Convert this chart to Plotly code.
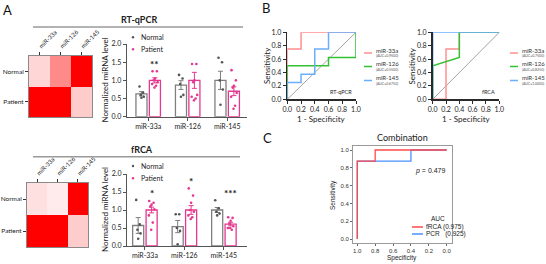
import plotly.graph_objects as go

W, H = 546, 264
def X(p): return p / W
def Y(p): return 1 - p / H

FONT = "Lato"
GRAY = "#7f7f7f"
MAG = "#e5378f"
C33, C126, C145 = "#ff8f8f", "#33c233", "#6aaeff"

# ---------------- data ----------------
mirnas = ["miR-33a", "miR-126", "miR-145"]
groups = ["Normal", "Patient"]

qpcr_heat = [[0.16, 0.46, 1.0], [1.0, 1.0, 0.2]]
frca_heat = [[0.12, 0.08, 1.0], [1.0, 1.0, 0.2]]

qpcr_normal_mean = [0.63, 0.87, 1.00]
qpcr_normal_sem = [0.06, 0.12, 0.25]
qpcr_patient_mean = [1.00, 1.00, 0.70]
qpcr_patient_sem = [0.07, 0.22, 0.12]
qpcr_normal_pts = [[0.83, 0.66, 0.60, 0.55, 0.52],
                   [1.15, 1.05, 0.90, 0.60, 0.55],
                   [1.62, 1.50, 1.00, 0.75, 0.33]]
qpcr_patient_pts = [[1.25, 1.25, 1.05, 1.00, 0.95, 0.90, 0.85, 0.80],
                    [1.45, 1.45, 1.00, 0.95, 0.60, 0.55, 0.50, 0.45],
                    [1.28, 1.00, 0.85, 0.80, 0.65, 0.55, 0.30, 0.22]]
qpcr_sig = ["**", "", ""]

frca_normal_mean = [0.57, 0.54, 1.00]
frca_normal_sem = [0.22, 0.17, 0.07]
frca_patient_mean = [1.00, 1.00, 0.61]
frca_patient_sem = [0.08, 0.12, 0.05]
frca_normal_pts = [[1.28, 0.60, 0.45, 0.35, 0.20],
                   [0.88, 0.88, 0.50, 0.42, 0.05],
                   [1.27, 1.05, 0.95, 0.90, 0.85]]
frca_patient_pts = [[1.25, 1.20, 1.15, 1.10, 1.02, 0.85, 0.65, 0.45],
                    [1.60, 1.40, 1.20, 1.00, 0.95, 0.85, 0.80, 0.75],
                    [0.80, 0.78, 0.70, 0.62, 0.55, 0.50, 0.45, 0.50]]
frca_sig = ["*", "*", "***"]

# ROC (1 - specificity, sensitivity)
qpcr_fpr = [[0, 0, 0.2, 0.2, 1],
            [0, 0, 0.6, 0.6, 1, 1],
            [0, 0, 0.2, 0.2, 0.4, 0.4, 0.6, 0.6, 1]]
qpcr_tpr = [[0, 0.75, 0.75, 1, 1],
            [0, 0.5, 0.5, 0.625, 0.625, 1],
            [0, 0.25, 0.25, 0.375, 0.375, 0.75, 0.75, 1, 1]]
qpcr_auc = [0.95, 0.55, 0.675]
frca_fpr = [[0, 0.2, 0.2, 0.4, 0.4, 1],
            [0, 0, 0.4, 0.4, 1],
            [0, 0, 1]]
frca_tpr = [[0, 0, 0.75, 0.75, 1, 1],
            [0, 0.5, 0.625, 1, 1],
            [0, 1, 1]]
frca_auc = [0.75, 0.825, 1.0]

comb_names = ["fRCA", "PCR"]
comb_spec = [[1, 1, 0.8, 0.8, 0], [1, 1, 0.4, 0.4, 0]]
comb_sens = [[0, 0.875, 0.875, 1, 1], [0, 0.875, 0.875, 1, 1]]
comb_auc = [0.975, 0.925]
comb_p = 0.479

ticks01 = [0, 0.2, 0.4, 0.6, 0.8, 1.0]

fig = go.Figure()
annots = []
shapes = []

def txt(x, y, s, size=7, xa="center", ya="middle", ang=0, color="#222", bold=False, fam=FONT):
    annots.append(dict(x=X(x), y=Y(y), xref="paper", yref="paper", text=("<b>%s</b>" % s) if bold else s,
                       showarrow=False, xanchor=xa, yanchor=ya, textangle=ang, borderpad=0,
                       font=dict(size=size, color=color, family=fam)))

def hline(x0, x1, y, color, w=1.5):
    shapes.append(dict(type="line", xref="paper", yref="paper", x0=X(x0), x1=X(x1), y0=Y(y), y1=Y(y),
                       line=dict(color=color, width=w)))

def dot(x, y, color, r=1.2):
    shapes.append(dict(type="circle", xref="paper", yref="paper", x0=X(x - r), x1=X(x + r), y0=Y(y + r), y1=Y(y - r),
                       fillcolor=color, line=dict(width=0)))

layout_axes = {}

# ---------------- heatmaps ----------------
scale = [[0, "#ffffff"], [1, "#ff0000"]]
def heat(z, n, xd, yd):
    fig.add_trace(go.Heatmap(z=z, x=mirnas, y=groups, colorscale=scale, zmin=0, zmax=1, showscale=False,
                             xaxis="x%d" % n, yaxis="y%d" % n, hoverinfo="skip"))
    layout_axes["xaxis%d" % n] = dict(domain=[X(xd[0]), X(xd[1])], anchor="y%d" % n, side="top", tickangle=-45,
                                     showline=True, mirror=True, linecolor="#8a8a8a", linewidth=1, automargin=False,
                                     ticks="outside", ticklen=3, tickcolor="#333", showgrid=False, zeroline=False,
                                     tickfont=dict(size=6, family=FONT, color="#222"))
    layout_axes["yaxis%d" % n] = dict(domain=[Y(yd[1]), Y(yd[0])], anchor="x%d" % n, autorange="reversed",
                                     showline=True, mirror=True, linecolor="#8a8a8a", linewidth=1, automargin=False,
                                     ticks="outside", ticklen=3, tickcolor="#333", showgrid=False, zeroline=False,
                                     tickfont=dict(size=6.5, family=FONT, color="#222"))

heat(qpcr_heat, 1, (29, 92), (56, 117))
heat(frca_heat, 3, (27, 88), (183, 247))

# ---------------- bar charts ----------------
jit_n = [-0.05, 0.04, -0.02, 0.06, 0.0]
jit_p = [-0.06, 0.05, 0.0, -0.03, 0.07, -0.07, 0.03, -0.01]
BW, OFF = 0.28, 0.17

def bars(n, nm, ns, pm, ps, npts, ppts, sig, xd, yd, xr):
    xa, ya = "x%d" % n, "y%d" % n
    cats = list(range(len(mirnas)))
    fig.add_trace(go.Bar(x=cats, y=nm, width=BW, offset=-OFF - BW / 2, marker=dict(color="white", line=dict(color=GRAY, width=1.3)),
                         error_y=dict(type="data", array=ns, color=GRAY, thickness=1, width=2.5),
                         xaxis=xa, yaxis=ya, showlegend=False))
    fig.add_trace(go.Bar(x=cats, y=pm, width=BW, offset=OFF - BW / 2, marker=dict(color="white", line=dict(color=MAG, width=1.3)),
                         error_y=dict(type="data", array=ps, color=MAG, thickness=1, width=2.5),
                         xaxis=xa, yaxis=ya, showlegend=False))
    xs, ys = [], []
    for i, pts in enumerate(npts):
        for k, v in enumerate(pts):
            xs.append(i - OFF + jit_n[k % len(jit_n)]); ys.append(v)
    fig.add_trace(go.Scatter(x=xs, y=ys, mode="markers", marker=dict(size=2.6, color="#555"), xaxis=xa, yaxis=ya,
                             showlegend=False, cliponaxis=False))
    xs, ys = [], []
    for i, pts in enumerate(ppts):
        for k, v in enumerate(pts):
            xs.append(i + OFF + jit_p[k % len(jit_p)]); ys.append(v)
    fig.add_trace(go.Scatter(x=xs, y=ys, mode="markers", marker=dict(size=2.6, color=MAG), xaxis=xa, yaxis=ya,
                             showlegend=False, cliponaxis=False))
    for i, s in enumerate(sig):
        if s:
            top = max(max(npts[i]), max(ppts[i]))
            annots.append(dict(x=i + OFF, y=top + 0.2, xref=xa, yref=ya, text="<b>%s</b>" % s, showarrow=False,
                               yanchor="middle", font=dict(size=10, family=FONT, color="#222")))
    layout_axes["xaxis%d" % n] = dict(domain=[X(xd[0]), X(xd[1])], anchor=ya, range=xr, tickvals=cats, ticktext=mirnas,
                                     showline=True, linecolor="#555", linewidth=1, ticks="outside", ticklen=3,
                                     tickcolor="#555", showgrid=False, zeroline=False, automargin=False,
                                     tickfont=dict(size=7, family=FONT, color="#222"))
    layout_axes["yaxis%d" % n] = dict(domain=[Y(yd[1]), Y(yd[0])], anchor=xa, range=[0, 2], tickvals=[0, 0.5, 1, 1.5, 2],
                                     tickformat=".1f", showline=True, linecolor="#555", linewidth=1, ticks="outside",
                                     ticklen=3, tickcolor="#555", showgrid=False, zeroline=False, automargin=False,
                                     tickfont=dict(size=7, family=FONT, color="#222"))

bars(2, qpcr_normal_mean, qpcr_normal_sem, qpcr_patient_mean, qpcr_patient_sem, qpcr_normal_pts, qpcr_patient_pts,
     qpcr_sig, (126.7, 246.7), (44, 116.7), [-0.544, 2.494])
bars(4, frca_normal_mean, frca_normal_sem, frca_patient_mean, frca_patient_sem, frca_normal_pts, frca_patient_pts,
     frca_sig, (127, 247), (174, 246), [-0.453, 2.585])

# bar legends and titles
for (y0, y1) in [(37.3, 49.3), (166, 178.3)]:
    dot(133, y0, "#555"); txt(140, y0, groups[0], 7, xa="left")
    dot(133, y1, MAG); txt(140, y1, groups[1], 7, xa="left")
txt(105, 80.4, "Normalized miRNA level", 8, ang=-90)
txt(105, 210, "Normalized miRNA level", 8, ang=-90)
txt(139, 19.5, "RT-qPCR", 9, bold=True)
hline(33, 243, 27, "#9a9a9a", 1.5)
txt(142, 149, "fRCA", 9, bold=True)
hline(33, 240, 156.7, "#9a9a9a", 1.5)

# ---------------- ROC ----------------
roc_colors = [C33, C126, C145]
def roc(n, fpr, tpr, xd, yd, label, auc, leg_x):
    xa, ya = "x%d" % n, "y%d" % n
    fig.add_trace(go.Scatter(x=[0, 1], y=[0, 1], mode="lines", line=dict(color="#8c8c8c", width=0.8),
                             xaxis=xa, yaxis=ya, showlegend=False, hoverinfo="skip"))
    for i in range(len(mirnas)):
        fig.add_trace(go.Scatter(x=fpr[i], y=tpr[i], mode="lines", line=dict(color=roc_colors[i], width=1.5),
                                 xaxis=xa, yaxis=ya, showlegend=False, cliponaxis=False))
    common = dict(range=[0, 1], tickvals=ticks01, tickformat=".1f", showline=True, linecolor="#2a2a2a", linewidth=1.6,
                  ticks="outside", ticklen=3, tickcolor="#2a2a2a", showgrid=False, zeroline=False, automargin=False,
                  tickfont=dict(size=7, family=FONT, color="#222"))
    layout_axes["xaxis%d" % n] = dict(domain=[X(xd[0]), X(xd[1])], anchor=ya, **common)
    layout_axes["yaxis%d" % n] = dict(domain=[Y(yd[1]), Y(yd[0])], anchor=xa, **common)
    txt(xd[1] - 3, 92, label, 5.5, xa="right")
    txt(xd[0] - 21, (yd[0] + yd[1]) / 2, "Sensitivity", 8, ang=-90)
    txt((xd[0] + xd[1]) / 2, 119, "1 - Specificity", 8)
    for i, yy in enumerate([50, 63.5, 77.5]):
        hline(leg_x, leg_x + 8, yy + 3, roc_colors[i], 1.5)
        txt(leg_x + 11, yy, mirnas[i], 6, xa="left", color="#333")
        txt(leg_x + 11, yy + 5.5, "(AUC=%.4f)" % auc[i], 3.5, xa="left", color="#555")

roc(5, qpcr_fpr, qpcr_tpr, (287.3, 356), (32.3, 99.3), "RT-qPCR", qpcr_auc, 364)
roc(6, frca_fpr, frca_tpr, (432.7, 499.3), (32.3, 99.3), "fRCA", frca_auc, 510)

# ---------------- Combination ----------------
comb_colors = ["#ff4a4a", "#4a90ff"]
for i in [1, 0]:
    fig.add_trace(go.Scatter(x=comb_spec[i], y=comb_sens[i], mode="lines", line=dict(color=comb_colors[i], width=1.3),
                             xaxis="x7", yaxis="y7", showlegend=False))
cax = dict(tickvals=ticks01, tickformat=".1f", showline=True, mirror=True, linecolor="#9a9a9a", linewidth=1,
           ticks="outside", ticklen=2, tickcolor="#666", showgrid=False, zeroline=False, automargin=False,
           tickfont=dict(size=6, family="Liberation Sans", color="#333"))
layout_axes["xaxis7"] = dict(domain=[X(353), X(451.7)], anchor="y7", range=[1.048, -0.056], **cax)
layout_axes["yaxis7"] = dict(domain=[Y(243), Y(146)], anchor="x7", range=[-0.045, 1.045], **cax)
txt(402, 137, "Combination", 9)
txt(447, 171, "<i>p</i> = %.3f" % comb_p, 7, xa="right", fam="Liberation Sans")
txt(333, 195, "Sensitivity", 6.5, ang=-90, fam="Liberation Sans")
txt(402, 258, "Specificity", 6.5, fam="Liberation Sans")
txt(438, 218, "AUC", 6.5, fam="Liberation Sans")
for i, yy in enumerate([227, 234]):
    hline(412, 423, yy, comb_colors[i], 1.5)
    label = "%s (%.3f)" % (comb_names[i], comb_auc[i]) if i == 0 else "%s&nbsp;&nbsp;&nbsp;(%.3f)" % (comb_names[i], comb_auc[i])
    txt(425, yy, label, 6.5, xa="left", fam="Liberation Sans")

# panel letters
txt(7, 10, "A", 13, color="#111")
txt(266, 8, "B", 13, color="#111")
txt(267, 138, "C", 13, color="#111")

fig.update_layout(width=W, height=H, margin=dict(l=0, r=0, t=0, b=0, autoexpand=False), paper_bgcolor="white",
                  plot_bgcolor="white", showlegend=False, annotations=annots, shapes=shapes, font=dict(family=FONT),
                  **layout_axes)
fig.write_html("out.html", config={"displayModeBar": False, "staticPlot": True},
               post_script="document.body.style.margin='0';document.body.style.overflow='hidden';")
